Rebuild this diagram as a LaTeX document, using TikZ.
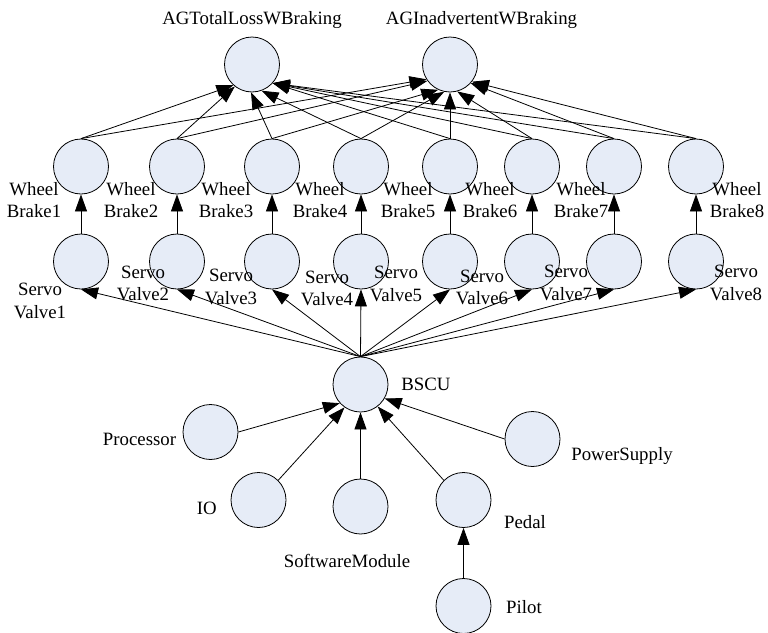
\documentclass[tikz,border=0pt]{standalone}
\usepackage{fontspec}
\setmainfont{Liberation Serif}
\usetikzlibrary{arrows.meta}
\definecolor{nodefill}{RGB}{230,236,247}
\begin{document}
\begin{tikzpicture}[x=1pt,y=-1pt,
  event/.style={circle,draw=black,line width=0.8pt,fill=nodefill,minimum size=55pt,inner sep=0pt},
  lbl/.style={inner sep=0pt,font=\fontsize{18.8pt}{22.5pt}\selectfont,align=center},
  tag/.style={lbl,anchor=base},
  link/.style={draw,line width=0.8pt,-{Triangle[length=17pt,width=12pt]}}
]
\useasboundingbox (0,0) rectangle (768,632);

% top level events
\node[event] (tl) at (252,64.5) {};
\node[event] (in) at (450,64.5) {};
\node[tag] (tl-t) at (252,24) {AGTotalLossWBraking};
\node[tag] (in-t) at (481.5,24) {AGInadvertentWBraking};

% wheel brakes and servo valves
\foreach \i/\x/\wx/\sx/\sy in {1/81/34/40/301,2/177/131/143/283.5,3/272/226/231/287,4/361/320/327/288.5,
                              5/450/408/396/284,6/532/490/482/287.5,7/614/581/566/283,8/696/737/736/283}{
  \node[event] (wb\i) at (\x,166.5) {};
  \node[event] (sv\i) at (\x,261.5) {};
  \node[lbl] (wb\i-t) at (\wx,200) {Wheel\\Brake\i};
  \node[lbl] (sv\i-t) at (\sx,\sy) {Servo\\Valve\i};
}

% lower part
\node[event] (bscu)  at (360.5,384.5) {};
\node[event] (proc)  at (210.5,432) {};
\node[event] (io)    at (258.5,500) {};
\node[event] (sw)    at (360.5,506.5) {};
\node[event] (pedal) at (463.5,500) {};
\node[event] (ps)    at (532.5,439) {};
\node[event] (pilot) at (463.5,606) {};

\node[tag] (bscu-t)  at (426,390)   {BSCU};
\node[tag] (proc-t)  at (139.5,445) {Processor};
\node[tag] (io-t)    at (206.7,514) {IO};
\node[tag] (sw-t)    at (347,567)   {SoftwareModule};
\node[tag] (ps-t)    at (622,460)   {PowerSupply};
\node[tag] (pedal-t) at (525,528)   {Pedal};
\node[tag] (pilot-t) at (524,613)   {Pilot};

% wheel brakes feed both top events
\foreach \i/\a/\b in {1/228/212,2/232/216,3/268/245,4/290/258,5/318/270,6/318/285,7/318/318,8/318/322}{
  \draw[link] (wb\i.north) -- (tl.\a);
  \draw[link] (wb\i.north) -- (in.\b);
}

% servo valves to wheel brakes, BSCU to servo valves
\foreach \i in {1,...,8}{
  \draw[link] (sv\i.north) -- (wb\i.south);
  \draw[link] (bscu.north) -- (sv\i.south);
}

% inputs of the BSCU
\draw[link] (proc.east) -- (bscu.222);
\draw[link] (io.north east) -- (bscu.235);
\draw[link] (sw.north) -- (bscu.south);
\draw[link] (pedal.north west) -- (bscu.308);
\draw[link] (ps.west) -- (bscu.330);
\draw[link] (pilot.north) -- (pedal.south);
\end{tikzpicture}
\end{document}
